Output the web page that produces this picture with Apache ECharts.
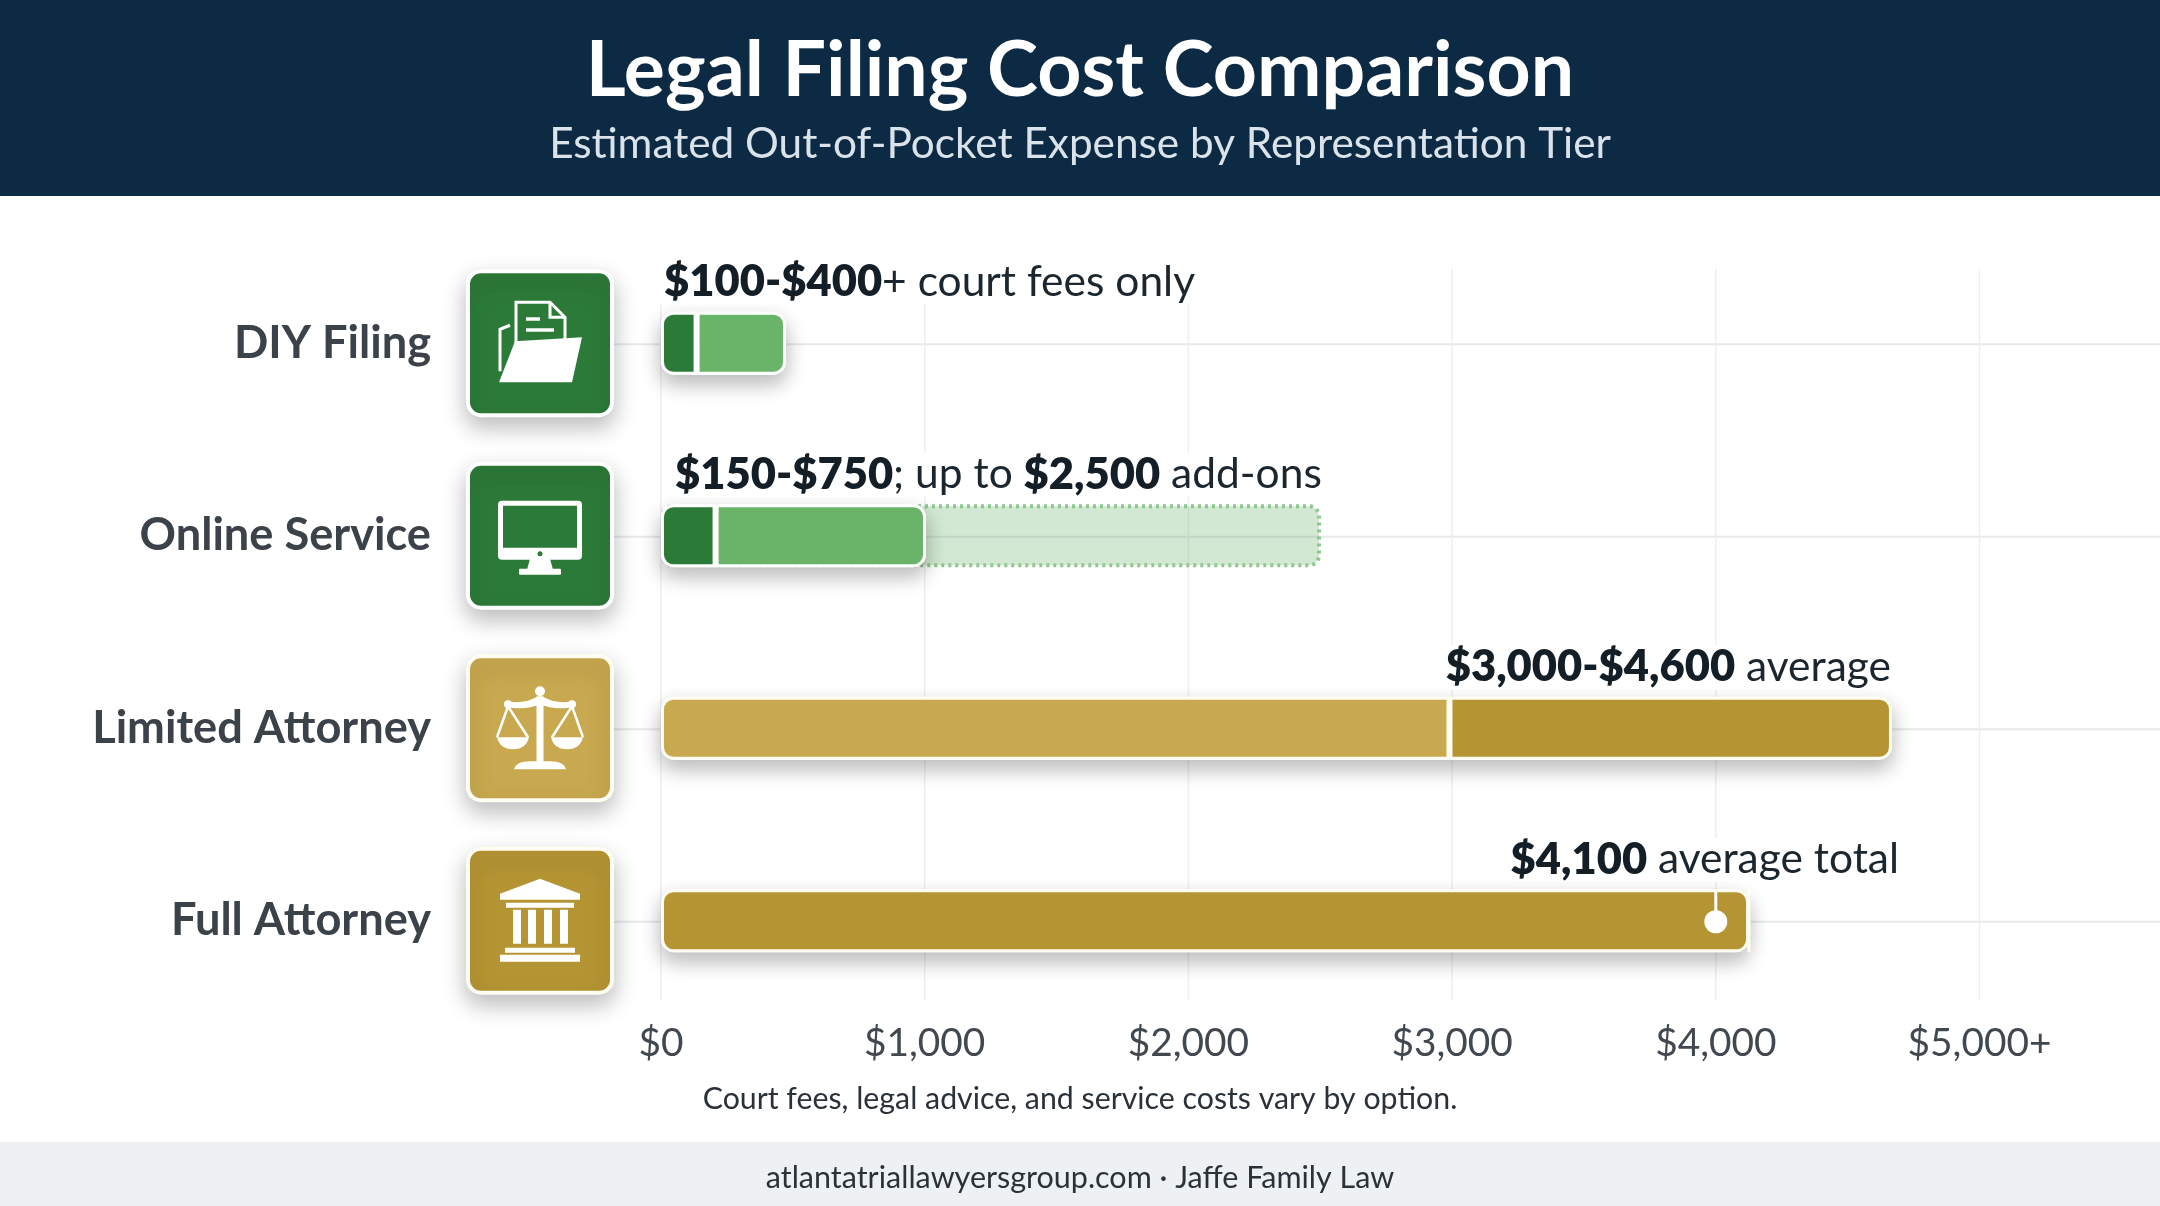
<!DOCTYPE html>
<html><head><meta charset="utf-8">
<style>html,body{margin:0;padding:0;background:#fff}#c{width:2160px;height:1206px}</style>
<script src="https://cdn.jsdelivr.net/npm/echarts@6/dist/echarts.min.js"></script>
</head><body><div id="c"></div>
<script>
const categories = ['DIY Filing', 'Online Service', 'Limited Attorney', 'Full Attorney'];
const lowSegment = [135, 207, 2990, 4126];
const highSegment = [339, 798, 1678, 0];
const addOnEnd = [null, 2503, null, null];
const markerValue = [null, null, null, 4000];
const tickValues = [0, 1000, 2000, 3000, 4000, 5000];
const tickLabels = ['$0', '$1,000', '$2,000', '$3,000', '$4,000', '$5,000+'];
const rowNotes = ['{b|$100-$400}+ court fees only', '{b|$150-$750}; up to {b|$2,500} add-ons', '{b|$3,000-$4,600} average', '{b|$4,100} average total'];
const titleText = 'Legal Filing Cost Comparison';
const subtitleText = 'Estimated Out-of-Pocket Expense by Representation Tier';
const noteText = 'Court fees, legal advice, and service costs vary by option.';
const footerText = 'atlantatriallawyersgroup.com \u00b7 Jaffe Family Law';

const FONT = 'Lato';
const GREEN_D = '#2c7a38', GREEN_L = '#69b469', GOLD_L = '#c8a94f', GOLD_D = '#b59533';
const lowColors = [GREEN_D, GREEN_D, GOLD_L, GOLD_D];
const highColors = [GREEN_L, GREEN_L, GOLD_D, GOLD_D];
const iconColors = [GREEN_D, GREEN_D, GOLD_L, GOLD_D];
const edgeColors = ['#fff', '#fff', '#fffdf2', '#fffdf2'];
const ICON_OFFSET = -121, ICON_SIZE = 144;

const W = '#fff';
function folderGlyph(bg) { return [
  {type:'path', shape:{pathData:'M-24 6 L-24 -41 L10 -41 L25 -26 L25 6'}, style:{fill:'none', stroke:W, lineWidth:3}},
  {type:'path', shape:{pathData:'M10 -41 L10 -26 L25 -26'}, style:{fill:'none', stroke:W, lineWidth:3}},
  {type:'rect', shape:{x:-14,y:-26,width:14,height:3.5}, style:{fill:W}},
  {type:'rect', shape:{x:-14,y:-15,width:28,height:3.5}, style:{fill:W}},
  {type:'path', shape:{pathData:'M-40 28 L-40 -14 L-30 -18'}, style:{fill:'none', stroke:W, lineWidth:3}},
  {type:'path', shape:{pathData:'M-25 -2 L42 -6 L32 39 L-41 39 Z'}, style:{fill:W}}
];}
function monitorGlyph(bg) { return [
  {type:'rect', shape:{x:-42,y:-35,width:84,height:59,r:4}, style:{fill:W}},
  {type:'rect', shape:{x:-37,y:-30,width:74,height:42}, style:{fill:bg}},
  {type:'circle', shape:{cx:0,cy:18,r:2.5}, style:{fill:bg}},
  {type:'path', shape:{pathData:'M-10 23 L10 23 L13 34 L-13 34 Z'}, style:{fill:W}},
  {type:'rect', shape:{x:-21,y:33,width:42,height:6,r:1}, style:{fill:W}}
];}
function scalesGlyph(bg) { return [
  {type:'circle', shape:{cx:0,cy:-37,r:5}, style:{fill:W}},
  {type:'rect', shape:{x:-3.5,y:-32,width:7,height:66}, style:{fill:W}},
  {type:'path', shape:{pathData:'M-33 -27 Q-16 -24 -4 -31 L4 -31 Q16 -24 33 -27 L33 -21 Q14 -18 0 -24 Q-14 -18 -33 -21 Z'}, style:{fill:W}},
  {type:'circle', shape:{cx:-32,cy:-24,r:4}, style:{fill:W}},
  {type:'circle', shape:{cx:32,cy:-24,r:4}, style:{fill:W}},
  {type:'path', shape:{pathData:'M-43 9 L-32 -22 L-12 9 M43 9 L32 -22 L12 9'}, style:{fill:'none', stroke:W, lineWidth:2.5}},
  {type:'path', shape:{pathData:'M-43 9 L-11 9 Q-14 21 -27 21 Q-40 21 -43 9 Z M11 9 L43 9 Q40 21 27 21 Q14 21 11 9 Z'}, style:{fill:W}},
  {type:'path', shape:{pathData:'M-26 41 Q-24 33 -10 33 L10 33 Q24 33 26 41 Z'}, style:{fill:W}}
];}
function bankGlyph(bg) {
  const kids = [
    {type:'path', shape:{pathData:'M0 -42 L40 -27 L40 -21 L-40 -21 L-40 -27 Z'}, style:{fill:W}},
    {type:'rect', shape:{x:-34,y:-18,width:68,height:5}, style:{fill:W}},
    {type:'rect', shape:{x:-35,y:27,width:70,height:5}, style:{fill:W}},
    {type:'rect', shape:{x:-40,y:34,width:80,height:7}, style:{fill:W}}
  ];
  [-27,-12,4,20].forEach(x => kids.push({type:'rect', shape:{x:x,y:-11,width:8,height:34}, style:{fill:W}}));
  return kids;
}
const glyphs = [folderGlyph, monitorGlyph, scalesGlyph, bankGlyph];

const rowIdx = categories.map((c, i) => [0, i]);
const sharedBar = {type:'bar', barWidth:63, barGap:'-100%', silent:true};

const option = {
  animation:false,
  backgroundColor:'#fff',
  graphic:[
    {type:'rect', z:-1, shape:{x:0,y:0,width:2160,height:196}, style:{fill:'#0c2a44'}},
    {type:'rect', z:-1, shape:{x:0,y:1142,width:2160,height:64}, style:{fill:'#eef1f4'}}
  ],
  title:[
    {text:titleText, left:'center', top:28, textStyle:{fontFamily:FONT, fontSize:77, fontWeight:700, color:'#fff'},
     subtext:subtitleText, subtextStyle:{fontFamily:FONT, fontSize:42.3, color:'#dbe3ea'}, itemGap:13},
    {text:noteText, left:'center', top:1079, textStyle:{fontFamily:FONT, fontSize:30.3, fontWeight:400, color:'#2a3138'}},
    {text:footerText, left:'center', top:1158, textStyle:{fontFamily:FONT, fontSize:30.5, fontWeight:400, color:'#2a3138'}}
  ],
  grid:{left:661, top:247, width:1318.5, height:770},
  xAxis:{type:'value', min:0, max:5000, interval:1000,
    axisLine:{show:false}, axisTick:{show:false}, splitLine:{show:false},
    axisLabel:{margin:7, fontFamily:FONT, fontSize:38.8, color:'#41484f', formatter:v => tickLabels[tickValues.indexOf(v)]}},
  yAxis:{type:'category', inverse:true, data:categories,
    axisLine:{show:false}, axisTick:{show:false}, splitLine:{show:false},
    axisLabel:{margin:230, fontFamily:FONT, fontSize:45.2, fontWeight:700, color:'#3c4249'}},
  series:[
    {type:'custom', name:'rules', z:1, silent:true, data:rowIdx, encode:{x:0,y:1},
     renderItem:(p, api) => { const c = api.coord([0, api.value(1)]);
       return {type:'line', shape:{x1:c[0]+ICON_OFFSET+70, y1:c[1]+1, x2:api.getWidth(), y2:c[1]+1}, style:{stroke:'#e6e8ec', lineWidth:2}}; }},
    {type:'custom', name:'gridlines', z:1, silent:true, data:tickValues.map(v => [v]), encode:{x:0},
     renderItem:(p, api) => { const a = api.coord([api.value(0), 0]), b = api.coord([api.value(0), categories.length-1]);
       return {type:'line', shape:{x1:a[0], y1:a[1]-74, x2:a[0], y2:b[1]+80}, style:{stroke:'#eceef1', lineWidth:1.5}}; }},
    Object.assign({}, sharedBar, {name:'Add-ons', stack:'addon', z:2, data:addOnEnd,
      itemStyle:{color:'rgba(105,180,105,0.3)', borderColor:'#8fc88f', borderWidth:4, borderType:[3,4], borderRadius:10}}),
    Object.assign({}, sharedBar, {name:'outline', stack:'outline', z:3,
      data:lowSegment.map((v,i) => v + highSegment[i]),
      itemStyle:{color:'#fff', borderColor:'#fff', borderWidth:6, borderRadius:11, shadowBlur:20, shadowOffsetY:9, shadowColor:'rgba(0,0,0,0.25)'}}),
    Object.assign({}, sharedBar, {name:'Low', stack:'seg', z:4,
      data:lowSegment.map((v,i) => ({value:v, itemStyle:{color:lowColors[i], borderColor:edgeColors[i], borderWidth:3,
        borderRadius: highSegment[i] ? [11,0,0,11] : 11}}))}),
    Object.assign({}, sharedBar, {name:'High', stack:'seg', z:4,
      data:highSegment.map((v,i) => ({value:v, itemStyle:{color:highColors[i], borderColor:edgeColors[i], borderWidth:3, borderRadius:[0,11,11,0]}}))}),
    {type:'custom', name:'marker', z:5, silent:true,
     data:markerValue.map((v,i) => v == null ? null : [v,i]).filter(Boolean), encode:{x:0,y:1},
     renderItem:(p, api) => { const c = api.coord([api.value(0), api.value(1)]);
       return {type:'group', x:c[0], y:c[1]+1, children:[
         {type:'rect', shape:{x:-1.5,y:-30,width:3,height:22}, style:{fill:'#fff'}},
         {type:'circle', shape:{cx:0,cy:0,r:11.5}, style:{fill:'#fff'}} ]}; }},
    {type:'custom', name:'icons', z:6, silent:true, data:rowIdx, encode:{x:0,y:1},
     renderItem:(p, api) => { const i = api.value(1), c = api.coord([0, i]), s = ICON_SIZE, bg = iconColors[i];
       return {type:'group', x:c[0]+ICON_OFFSET, y:c[1], children:[
         {type:'rect', shape:{x:-s/2,y:-s/2,width:s,height:s,r:13}, style:{fill:bg, stroke:edgeColors[i], lineWidth:4,
            shadowBlur:22, shadowOffsetY:10, shadowColor:'rgba(0,0,0,0.25)'}}
       ].concat(glyphs[i](bg))}; }},
    {type:'custom', name:'notes', z:7, silent:true, data:rowIdx, encode:{x:0,y:1},
     renderItem:(p, api) => { const i = api.value(1), start = api.coord([0, i]), end = api.coord([lowSegment[i]+highSegment[i], i]);
       const place = [[start[0]-1,'left'], [start[0]+10,'left'], [end[0]+3,'right'], [end[0]+154,'right']][i];
       return {type:'text', x:place[0], y:start[1]-61, style:{text:rowNotes[i], align:place[1], verticalAlign:'middle',
         font:'400 42.5px '+FONT, fill:'#1c262e', backgroundColor:'#fff', padding:[0,4],
         rich:{b:{font:'800 43.5px '+FONT, fill:'#141e26'}}}}; }}
  ]
};
echarts.init(document.getElementById('c'), null, {renderer:'canvas'}).setOption(option);
</script></body></html>
